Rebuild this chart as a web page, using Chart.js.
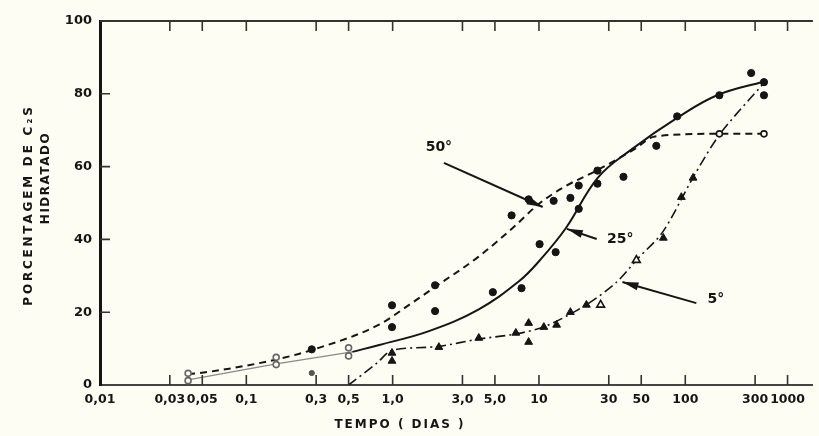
<!DOCTYPE html>
<html lang="pt">
<head>
<meta charset="UTF-8">
<title>Porcentagem de C2S hidratado</title>
<script src="https://cdn.jsdelivr.net/npm/chart.js"></script>
<style>
  html, body { margin: 0; padding: 0; background: #fdfdf4; }
  canvas { display: block; }
</style>
</head>
<body>
<canvas id="grafico" width="819" height="436"></canvas>
<script>
// eixo x (tempo, escala log) - posições e rótulos como no original
const tickValues = [0.01, 0.03, 0.05, 0.1, 0.3, 0.5, 1, 3, 5, 10, 30, 50, 100, 300, 500];
const tickLabels = ['0,01', '0,03', '0,05', '0,1', '0,3', '0,5', '1,0', '3,0', '5,0', '10', '30', '50', '100', '300', '1000'];
const yTicks = [0, 20, 40, 60, 80, 100];

// curvas [tempo (dias), % hidratado]
const curva50 = [[0.04, 3.0], [0.055, 3.6], [0.16, 7.0], [0.28, 9.6], [0.8, 16.5], [1.35, 22.5], [1.96, 27.0], [3.85, 35.2], [6.9, 43.8], [9.8, 49.5], [15, 54.5], [25, 59.0], [45, 64.8], [62, 68.3], [170, 69.0], [345, 69.0]];
const curva25Inicio = [[0.04, 1.4], [0.16, 5.8], [0.53, 9.1]];
const curva25 = [[0.53, 9.1], [0.81, 11.0], [1.77, 14.8], [3.88, 20.8], [7.3, 28.5], [10, 34.0], [15.2, 43.0], [25.3, 57.0], [42.5, 64.6], [89, 73.5], [165, 79.6], [345, 83.4]];
const curva5 = [[0.5, 0], [0.78, 6.0], [0.99, 9.5], [2.06, 10.6], [3.85, 12.6], [6.9, 14.0], [11, 16.1], [21, 22.0], [34, 28.3], [47, 34.6], [70, 42.0], [113, 57.0], [173, 69.0], [345, 83.0]];

// pontos experimentais
const pontos50 = [[0.28, 9.8], [0.99, 21.9], [1.95, 27.4], [6.5, 46.6], [8.5, 51.0], [12.6, 50.6], [16.4, 51.4], [18.7, 54.8], [25.1, 58.9]];
const pontos25 = [[0.99, 15.9], [1.95, 20.3], [4.84, 25.5], [7.6, 26.6], [10.1, 38.7], [13, 36.5], [18.7, 48.4], [25.1, 55.3], [37.8, 57.2], [63.4, 65.7], [88, 73.8], [171, 79.6], [282, 85.7], [345, 83.2], [345, 79.6]];
const pontos5 = [[0.99, 8.8], [0.99, 6.6], [2.07, 10.4], [3.88, 12.9], [6.95, 14.3], [8.5, 17.0], [8.5, 11.8], [10.8, 15.9], [13.2, 16.5], [16.4, 20.0], [21.1, 22.0], [70.8, 40.4], [94, 51.6], [113, 56.9]];
const pontos5Abertos = [[26.4, 22.0], [46.3, 34.3]];
const pontos50Abertos = [[171, 69.0], [345, 69.0]];
const pontosIniciais = [[0.04, 3.2], [0.04, 1.2], [0.16, 7.6], [0.16, 5.6], [0.5, 10.2], [0.5, 8.0]];
const pontoBase = [[0.28, 3.3]];

// rótulos com seta: texto, posição do texto, início e fim da seta
const rotulos = [
  { texto: '50°', tx: 2.07, ty: 65.4, de: [2.24, 61], ate: [10.6, 48.9] },
  { texto: '25°', tx: 36, ty: 40.1, de: [24.8, 40.1], ate: [15.5, 42.9] },
  { texto: '5°', tx: 162, ty: 23.4, de: [119, 22.5], ate: [37.2, 28.3] }
];

const pts = arr => arr.map(p => ({ x: p[0], y: p[1] }));
const fundo = '#fdfdf4';
const tinta = '#151515';

function linha(dados, extra) {
  return Object.assign({
    data: pts(dados), borderColor: tinta, borderWidth: 2, pointRadius: 0,
    tension: 0.4, fill: false, order: 2
  }, extra);
}
function pontos(dados, extra) {
  return Object.assign({
    data: pts(dados), showLine: false, pointRadius: 3.6, pointStyle: 'circle',
    pointBackgroundColor: tinta, pointBorderColor: tinta, pointBorderWidth: 1, order: 1
  }, extra);
}

const moldura = {
  id: 'moldura',
  afterDraw(chart) {
    const ctx = chart.ctx, a = chart.chartArea;
    const xs = chart.scales.x, ys = chart.scales.y;
    ctx.save();
    ctx.strokeStyle = '#333';
    ctx.lineWidth = 2;
    ctx.beginPath();
    ctx.moveTo(a.left, a.top);
    ctx.lineTo(a.right, a.top);
    ctx.stroke();
    ctx.lineWidth = 1.6;
    ctx.beginPath();
    tickValues.forEach(v => {
      if (v === tickValues[0]) return;
      const px = xs.getPixelForValue(v);
      ctx.moveTo(px, a.bottom); ctx.lineTo(px, a.bottom - 10);
      ctx.moveTo(px, a.top); ctx.lineTo(px, a.top + 10);
    });
    yTicks.slice(1, -1).forEach(v => {
      const py = ys.getPixelForValue(v);
      ctx.moveTo(a.left, py); ctx.lineTo(a.left + 10, py);
    });
    ctx.stroke();

    // títulos dos eixos
    ctx.fillStyle = tinta;
    ctx.font = 'bold 12px "DejaVu Sans"';
    ctx.textAlign = 'center';
    ctx.textBaseline = 'middle';
    ctx.letterSpacing = '2px';
    ctx.fillText('TEMPO ( DIAS )', 400, 425);
    ctx.save();
    ctx.translate(29, 205);
    ctx.rotate(-Math.PI / 2);
    ctx.letterSpacing = '2.8px';
    ctx.fillText('PORCENTAGEM DE C₂S', 0, 0);
    ctx.restore();
    ctx.save();
    ctx.translate(46, 178);
    ctx.rotate(-Math.PI / 2);
    ctx.letterSpacing = '1.5px';
    ctx.fillText('HIDRATADO', 0, 0);
    ctx.restore();

    // rótulos com setas
    ctx.letterSpacing = '0px';
    ctx.font = 'bold 14px "DejaVu Sans"';
    ctx.strokeStyle = tinta;
    rotulos.forEach(r => {
      const x0 = xs.getPixelForValue(r.de[0]), y0 = ys.getPixelForValue(r.de[1]);
      const x1 = xs.getPixelForValue(r.ate[0]), y1 = ys.getPixelForValue(r.ate[1]);
      ctx.lineWidth = 2;
      ctx.beginPath();
      ctx.moveTo(x0, y0); ctx.lineTo(x1, y1);
      ctx.stroke();
      const ang = Math.atan2(y1 - y0, x1 - x0);
      ctx.beginPath();
      ctx.moveTo(x1, y1);
      ctx.lineTo(x1 - 16 * Math.cos(ang) + 4 * Math.sin(ang), y1 - 16 * Math.sin(ang) - 4 * Math.cos(ang));
      ctx.lineTo(x1 - 16 * Math.cos(ang) - 4 * Math.sin(ang), y1 - 16 * Math.sin(ang) + 4 * Math.cos(ang));
      ctx.closePath();
      ctx.fill();
      ctx.fillText(r.texto, xs.getPixelForValue(r.tx), ys.getPixelForValue(r.ty));
    });
    ctx.restore();
  }
};

new Chart(document.getElementById('grafico'), {
  type: 'line',
  data: {
    datasets: [
      linha(curva50, { label: '50°', borderDash: [7, 5], tension: 0, cubicInterpolationMode: 'monotone' }),
      linha(curva25Inicio, { label: '25° (início)', borderColor: '#8a8a8a', borderWidth: 1.3, tension: 0 }),
      linha(curva25, { label: '25°' }),
      linha(curva5, { label: '5°', borderWidth: 1.6, borderDash: [10, 4, 2, 4], tension: 0.3 }),
      pontos(pontos50, { label: 'pontos 50°' }),
      pontos(pontos25, { label: 'pontos 25°' }),
      pontos(pontos5, { label: 'pontos 5°', pointStyle: 'triangle', pointRadius: 4.5 }),
      pontos(pontos5Abertos, { label: 'pontos 5° (abertos)', pointStyle: 'triangle', pointRadius: 4.5, pointBackgroundColor: fundo, pointBorderWidth: 1.6 }),
      pontos(pontos50Abertos, { label: 'pontos 50° (abertos)', pointRadius: 3, pointBackgroundColor: fundo, pointBorderWidth: 1.6 }),
      pontos(pontosIniciais, { label: 'pontos iniciais', pointRadius: 3, pointBackgroundColor: fundo, pointBorderColor: '#666', pointBorderWidth: 1.6 }),
      pontos(pontoBase, { label: 'ponto base', pointRadius: 2.6, pointBackgroundColor: '#555', pointBorderColor: '#555' })
    ]
  },
  options: {
    responsive: false,
    animation: false,
    devicePixelRatio: 1,
    layout: { padding: { top: 21, right: 4, left: 0, bottom: 0 } },
    plugins: { legend: { display: false }, tooltip: { enabled: false } },
    scales: {
      x: {
        type: 'logarithmic',
        min: 0.01,
        max: 745,
        afterBuildTicks: s => { s.ticks = tickValues.map(v => ({ value: v })); },
        afterFit: s => { s.height = 51; },
        grid: { drawOnChartArea: false, drawTicks: false },
        border: { color: '#444', width: 2 },
        ticks: {
          autoSkip: false, maxRotation: 0, padding: 7, color: tinta,
          font: { family: 'DejaVu Sans', weight: 'bold', size: 12.5 },
          callback: (v, i) => tickLabels[i]
        }
      },
      y: {
        min: 0,
        max: 100,
        afterBuildTicks: s => { s.ticks = yTicks.map(v => ({ value: v })); },
        afterFit: s => { s.width = 100; },
        grid: { drawOnChartArea: false, drawTicks: false },
        border: { color: tinta, width: 3 },
        ticks: {
          padding: 8, color: tinta,
          font: { family: 'DejaVu Sans', weight: 'bold', size: 13 }
        }
      }
    }
  },
  plugins: [moldura, {
    id: 'fundo',
    beforeDraw(chart) {
      const ctx = chart.ctx;
      ctx.save();
      ctx.fillStyle = fundo;
      ctx.fillRect(0, 0, chart.width, chart.height);
      ctx.restore();
    }
  }]
});
</script>
</body>
</html>
